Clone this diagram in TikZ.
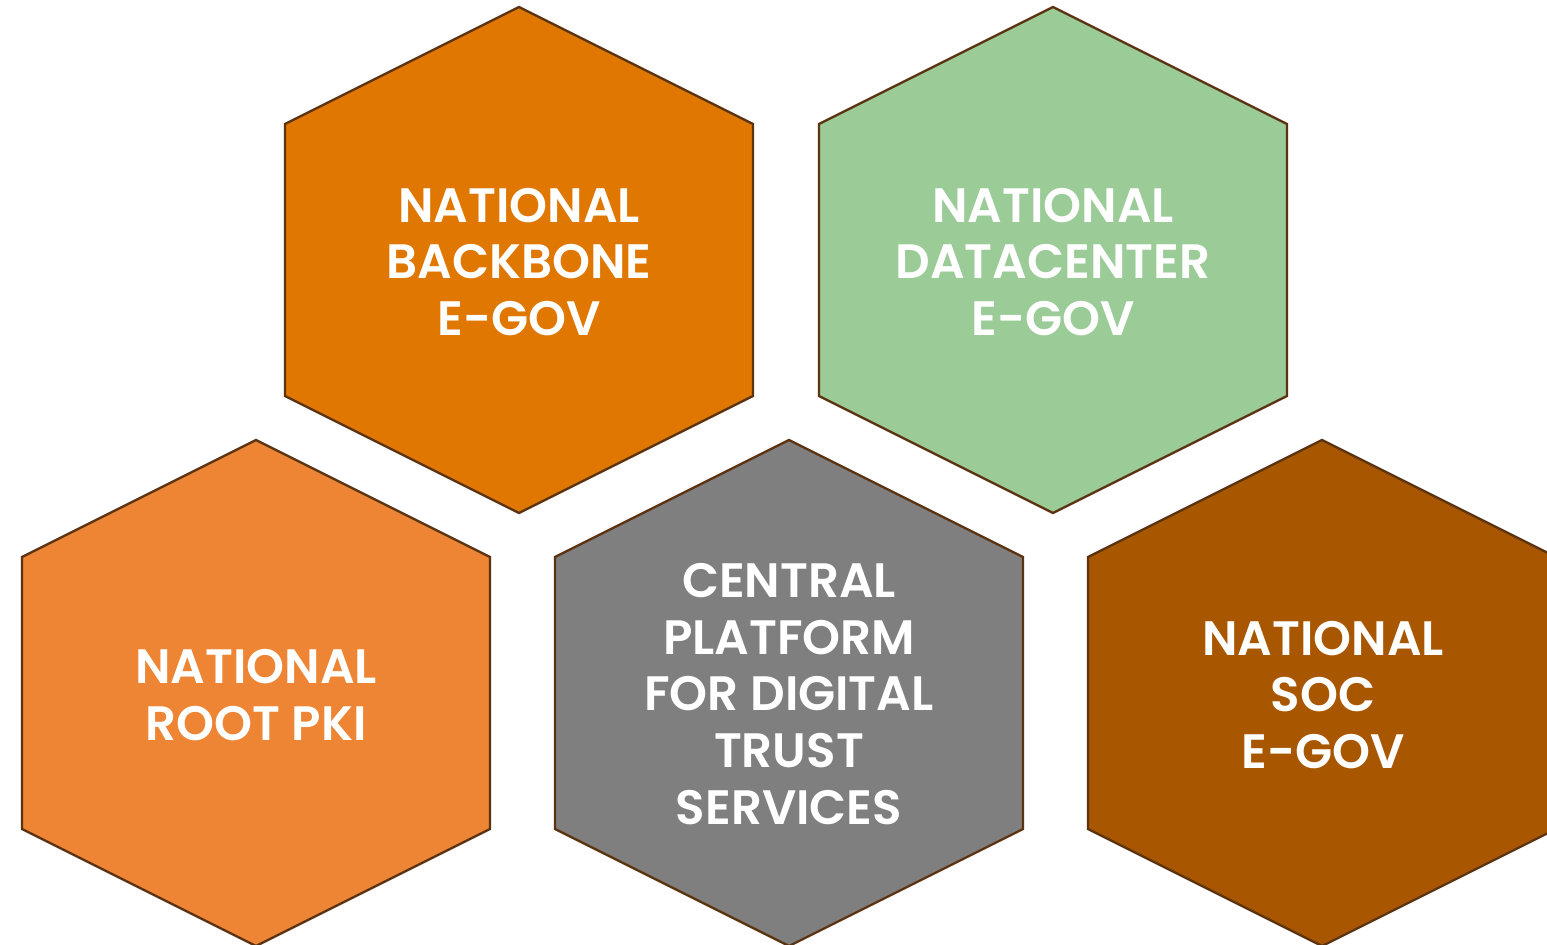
\documentclass[tikz,border=0pt]{standalone}
\usepackage{fontspec}
\setmainfont{Poppins}[BoldFont={Poppins SemiBold}]
\definecolor{hexA}{HTML}{E07700}
\definecolor{hexB}{HTML}{9BCC98}
\definecolor{hexC}{HTML}{ED8534}
\definecolor{hexD}{HTML}{7F7F7F}
\definecolor{hexE}{HTML}{A85700}
\definecolor{hexline}{HTML}{5C3310}
\begin{document}
\begin{tikzpicture}[x=0.02cm,y=-0.02cm,
  hexlabel/.style={text=white,font=\fontsize{27.5}{32.4}\selectfont\bfseries,align=center,inner sep=0pt},
  hexshape/.style={draw=hexline,line width=1.3pt}]
\useasboundingbox (0,0) rectangle (1547,944);
\begin{scope}
\clip (0,0) rectangle (1547,944);
\foreach \cx/\cy/\col in {519/260/hexA,1053/260/hexB,256/693/hexC,789/693/hexD,1322/693/hexE}{
  \filldraw[hexshape,fill=\col] (\cx,\cy-253) -- (\cx+234,\cy-136) -- (\cx+234,\cy+136) -- (\cx,\cy+253) -- (\cx-234,\cy+136) -- (\cx-234,\cy-136) -- cycle;
}
\end{scope}
\node[hexlabel] (backbone) at (519,262) {NATIONAL\\BACKBONE\\E-GOV};
\node[hexlabel] (datacenter) at (1053,262) {NATIONAL\\DATACENTER\\E-GOV};
\node[hexlabel] (pki) at (256,695) {NATIONAL\\ROOT PKI};
\node[hexlabel] (platform) at (789,694) {CENTRAL\\PLATFORM\\FOR DIGITAL\\TRUST\\SERVICES};
\node[hexlabel] (soc) at (1323,695) {NATIONAL\\SOC\\E-GOV};
\end{tikzpicture}
\end{document}
